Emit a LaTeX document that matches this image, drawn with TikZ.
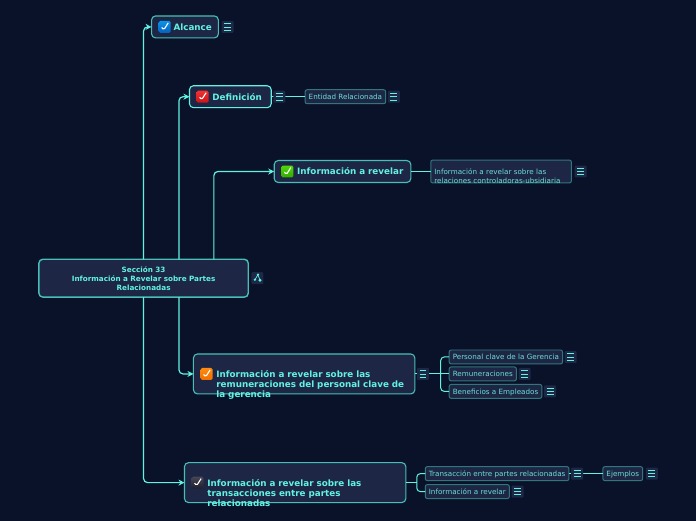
\documentclass[tikz,border=0pt]{standalone}
\usepackage{fontspec}
\setmainfont{DejaVu Sans}
\usetikzlibrary{positioning,arrows.meta,calc}
\definecolor{pagebg}{RGB}{10,18,41}
\definecolor{boxbg}{RGB}{29,39,69}
\definecolor{aqua}{RGB}{98,242,226}
\definecolor{aquadim}{RGB}{72,190,182}
\definecolor{aquadark}{RGB}{50,118,124}
\definecolor{subtext}{RGB}{108,222,212}
\definecolor{menubg}{RGB}{29,39,70}
\definecolor{chkblue}{RGB}{10,148,235}
\definecolor{chkbluedk}{RGB}{5,95,190}
\definecolor{chkred}{RGB}{240,50,50}
\definecolor{chkreddk}{RGB}{200,20,25}
\definecolor{chkgreen}{RGB}{80,215,10}
\definecolor{chkgreendk}{RGB}{50,170,0}
\definecolor{chkorange}{RGB}{255,140,15}
\definecolor{chkorangedk}{RGB}{240,110,0}
\definecolor{chkgrey}{RGB}{70,70,85}
\definecolor{chkgreydk}{RGB}{30,30,45}
\begin{document}
\begin{tikzpicture}[x=1pt,y=-1pt,
rootbox/.style={draw=aquadim,line width=1.4pt,fill=boxbg,rounded corners=4pt,outer sep=0pt,inner sep=0pt,minimum height=38pt,text width=210pt,align=center,text=aqua,font=\fontsize{7.25}{9}\selectfont\bfseries},
topic/.style n args={3}{draw=#3,line width=1.1pt,fill=boxbg,rounded corners=4pt,outer sep=0pt,inner xsep=5pt,inner ysep=0pt,minimum height=22pt,text width=#1,align=left,text=aqua,font=\fontsize{8.8}{10.2}\selectfont\bfseries,execute at begin node={\leftskip=#2\relax}},
tall/.style={minimum height=40pt,text depth=-1pt},
sub/.style={draw=aquadark,line width=1pt,fill=boxbg,rounded corners=2pt,outer sep=0pt,inner xsep=3.6pt,inner ysep=0pt,minimum height=14pt,text height=6.5pt,text depth=1pt,align=left,text=subtext,font=\fontsize{7.2}{9}\selectfont},
chk/.style n args={2}{minimum size=12pt,inner sep=0pt,rounded corners=1.5pt,top color=#1,bottom color=#2,path picture={\draw[white,line width=1.1pt] ($(path picture bounding box.center)+(-3,.5)$)--($(path picture bounding box.center)+(-1,3)$)--($(path picture bounding box.center)+(3.5,-4)$);}},
menu/.style={minimum size=12pt,inner sep=0pt,rounded corners=1pt,fill=menubg,path picture={\foreach \dy in {-3.2,0,3.2}{\draw[aqua,line width=.7pt] ($(path picture bounding box.center)+(-3.5,\dy)$)--($(path picture bounding box.center)+(3.5,\dy)$);}}},
mapicon/.style={minimum size=12pt,inner sep=0pt,rounded corners=1pt,fill=menubg,path picture={\fill[aqua] ($(path picture bounding box.center)+(.5,-3.5)$) circle (1.3pt) ($(path picture bounding box.center)+(-2.5,1.5)$) circle (1.3pt) ($(path picture bounding box.center)+(2.5,2)$) circle (1.6pt);\draw[aqua,line width=.7pt] ($(path picture bounding box.center)+(-2.5,1.5)$)--($(path picture bounding box.center)+(.5,-3.5)$)--($(path picture bounding box.center)+(2.5,2)$);}},
arr/.style={-{Stealth[length=6pt,width=6pt]},line width=1.2pt,draw=aqua,rounded corners=4pt},
lnk/.style={line width=1pt,draw=aqua,rounded corners=3.5pt}]
\fill[pagebg] (-1,-1) rectangle (697,521);
\useasboundingbox (-.5,-.5) rectangle (695.5,519.5);
% main topics
\node[rootbox] (root) at (143,278) {Sección 33\\Información a Revelar sobre Partes\\Relacionadas};
\node[topic={57pt}{17pt}{aquadim}] (alc) at (184.5,26) {Alcance};
\node[topic={72pt}{18pt}{aqua}] (defi) at (230,96) {Definición};
\node[topic={127pt}{18pt}{aquadim}] (inf) at (342.5,171) {Información a revelar};
\node[topic={212pt}{18pt}{aquadim},tall] (rem) at (304,374) {Información a revelar sobre las\\remuneraciones del personal clave de\\la gerencia};
\node[topic={212pt}{18pt}{aquadim},tall] (tra) at (295,483) {Información a revelar sobre las\\transacciones entre partes\\relacionadas};
% sub topics
\node[sub,right=34pt of defi] (ent) {Entidad Relacionada};
\node[sub,right=20pt of inf,minimum height=23pt,text width=133.8pt,text height=,text depth=0pt] (rcs) {Información a revelar sobre las\\relaciones controladoras-ubsidiaria};
\node[sub,anchor=west] (per) at (449.5,357) {Personal clave de la Gerencia};
\node[sub,anchor=west] (rmn) at (449.5,374) {Remuneraciones};
\node[sub,anchor=west] (ben) at (449.5,391.5) {Beneficios a Empleados};
\node[sub,anchor=west] (trn) at (425.5,474) {Transacción entre partes relacionadas};
\node[sub,anchor=west] (inr) at (425.5,492) {Información a revelar};
\node[sub,right=34pt of trn] (eje) {Ejemplos};
% connectors
\coordinate (up2) at (178.5,259);
\coordinate (up3) at (213.5,259);
\coordinate (dn2) at (178.5,297);
\coordinate (fka) at (441,374);
\coordinate (fkb) at (417,483);
\draw[arr] (root.north) |- (alc);
\draw[arr] (up2) |- (defi);
\draw[arr] (up3) |- (inf);
\draw[arr] (dn2) |- (rem);
\draw[arr] (root.south) |- (tra);
\draw[lnk] (defi)--(ent);
\draw[lnk] (inf)--(rcs);
\draw[lnk] (rem)--(rmn);
\draw[lnk] (fka) |- (per);
\draw[lnk] (fka) |- (ben);
\draw[lnk] (tra.east |- fkb)--(fkb);
\draw[lnk] (fkb) |- (trn);
\draw[lnk] (fkb) |- (inr);
\draw[lnk] (trn)--(eje);
% check boxes
\node[chk={chkblue}{chkbluedk},anchor=west] (c1) at ([xshift=7pt]alc.west) {};
\node[chk={chkred}{chkreddk},anchor=west] (c2) at ([xshift=7pt]defi.west) {};
\node[chk={chkgreen}{chkgreendk},anchor=west] (c3) at ([xshift=7pt]inf.west) {};
\node[chk={chkorange}{chkorangedk},anchor=west] (c4) at ([xshift=7pt]rem.west) {};
\node[chk={chkgrey}{chkgreydk},anchor=west] (c5) at ([xshift=7pt]tra.west) {};
% menu icons
\node[mapicon,right=3pt of root] (m0) {};
\node[menu,right=3pt of alc] (m1) {};
\node[menu,right=2pt of defi] (m2) {};
\node[menu,right=2pt of ent] (m3) {};
\node[menu,right=3pt of rcs] (m4) {};
\node[menu,right=2pt of rem] (m5) {};
\node[menu,right=2pt of per] (m6) {};
\node[menu,right=2pt of rmn] (m7) {};
\node[menu,right=2pt of ben] (m8) {};
\node[menu,right=2pt of trn] (m9) {};
\node[menu,right=3pt of eje] (m10) {};
\node[menu,right=2pt of inr] (m11) {};
\end{tikzpicture}
\end{document}
